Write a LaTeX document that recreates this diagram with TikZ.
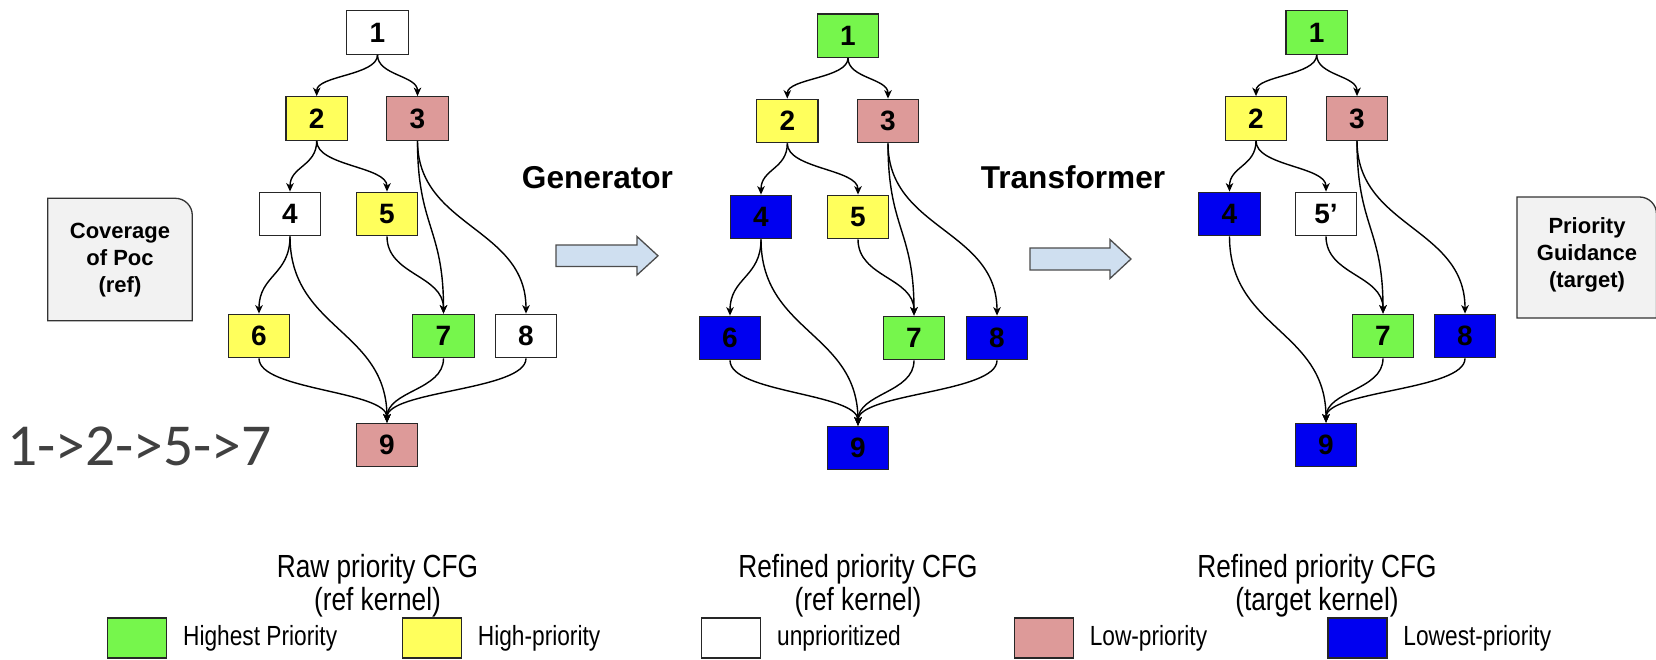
\documentclass[tikz,border=0pt]{standalone}
\usepackage{fontspec}
\setmainfont{Liberation Sans}
\newfontfamily\narrowfont[FakeStretch=0.82]{Liberation Sans}
\newfontfamily\pathfont{Carlito}
\usetikzlibrary{positioning,arrows.meta,calc}

\definecolor{prioGreen}{RGB}{118,246,76}
\definecolor{prioYellow}{RGB}{255,255,92}
\definecolor{prioPink}{RGB}{221,154,153}
\definecolor{prioBlue}{RGB}{0,0,240}
\definecolor{boxGray}{RGB}{242,242,242}
\definecolor{arrowBlue}{RGB}{207,223,240}
\definecolor{pathGray}{RGB}{64,64,64}

\tikzset{
  blk/.style={draw=black!85, line width=1.3pt, minimum width=61.5, minimum height=43.5, inner sep=0pt, font=\fontsize{28}{28}\selectfont\bfseries},
  pHighest/.style={blk, fill=prioGreen},
  pHigh/.style={blk, fill=prioYellow},
  pNone/.style={blk, fill=white},
  pLow/.style={blk, fill=prioPink},
  pLowest/.style={blk, fill=prioBlue},
  flow/.style={-{Stealth[length=8.5pt,width=7.5pt,inset=2.5pt]}, line width=1.4pt,
    to path={let \p1=(\tikztostart), \p2=(\tikztotarget) in
      .. controls (\x1,{(\y1+\y2)/2}) and (\x2,{(\y1+\y2)/2}) .. (\tikztotarget)}},
  infobox/.style={draw=black!80, line width=1.3pt, fill=boxGray},
  infotext/.style={align=center, inner sep=0pt, font=\fontsize{22}{27}\selectfont\bfseries},
  stage/.style={inner sep=0pt, font=\fontsize{31.6}{32}\selectfont\bfseries},
  blockarrow/.style={draw=black!70, line width=1.3pt, fill=arrowBlue, line join=miter},
  caption/.style={align=center, inner sep=0pt, font=\narrowfont\fontsize{32}{33}\selectfont},
  legtext/.style={inner sep=0pt, font=\narrowfont\fontsize{27.7}{28}\selectfont},
}

\begin{document}
\begin{tikzpicture}[x=1pt,y=-1pt]
\useasboundingbox (0,0) rectangle (1656,659);

% raw priority CFG (ref kernel)
\node[pNone]    (a1) at (377.5,32.5) {1};
\node[pHigh]    (a2) at (316.7,118.5) {2};
\node[pLow]     (a3) at (417.5,118.5) {3};
\node[pNone]    (a4) at (290,214) {4};
\node[pHigh]    (a5) at (387,214) {5};
\node[pHigh]    (a6) at (259,336) {6};
\node[pHighest] (a7) at (443.5,336) {7};
\node[pNone]    (a8) at (526,336) {8};
\node[pLow]     (a9) at (387,445) {9};
\draw[flow] (a1.south) to (a2.north);
\draw[flow] (a1.south) to (a3.north);
\draw[flow] (a2.south) to (a4.north);
\draw[flow] (a2.south) to (a5.north);
\draw[flow] (a3.south) to (a7.north);
\draw[flow] (a3.south) to (a8.north);
\draw[flow] (a4.south) to (a6.north);
\draw[flow] (a4.south) to (a9.north);
\draw[flow] (a5.south) to (a7.north);
\draw[flow] (a6.south) to (a9.north);
\draw[flow] (a7.south) to (a9.north);
\draw[flow] (a8.south) to (a9.north);

% refined priority CFG (ref kernel)
\node[pHighest] (b1) at (848,35.7) {1};
\node[pHigh]    (b2) at (787.3,121) {2};
\node[pLow]     (b3) at (888,121) {3};
\node[pLowest]  (b4) at (761,217) {4};
\node[pHigh]    (b5) at (858,217) {5};
\node[pLowest]  (b6) at (730,338) {6};
\node[pHighest] (b7) at (914,338) {7};
\node[pLowest]  (b8) at (997,338) {8};
\node[pLowest]  (b9) at (858,448) {9};
\draw[flow] (b1.south) to (b2.north);
\draw[flow] (b1.south) to (b3.north);
\draw[flow] (b2.south) to (b4.north);
\draw[flow] (b2.south) to (b5.north);
\draw[flow] (b3.south) to (b7.north);
\draw[flow] (b3.south) to (b8.north);
\draw[flow] (b4.south) to (b6.north);
\draw[flow] (b4.south) to (b9.north);
\draw[flow] (b5.south) to (b7.north);
\draw[flow] (b6.south) to (b9.north);
\draw[flow] (b7.south) to (b9.north);
\draw[flow] (b8.south) to (b9.north);

% refined priority CFG (target kernel)
\node[pHighest] (c1) at (1316.7,32.5) {1};
\node[pHigh]    (c2) at (1256,118.5) {2};
\node[pLow]     (c3) at (1357,118.5) {3};
\node[pLowest]  (c4) at (1229.5,214) {4};
\node[pNone]    (c5) at (1326,214) {5’};
\node[pHighest] (c7) at (1383,336) {7};
\node[pLowest]  (c8) at (1465,336) {8};
\node[pLowest]  (c9) at (1326,445) {9};
\draw[flow] (c1.south) to (c2.north);
\draw[flow] (c1.south) to (c3.north);
\draw[flow] (c2.south) to (c4.north);
\draw[flow] (c2.south) to (c5.north);
\draw[flow] (c3.south) to (c7.north);
\draw[flow] (c3.south) to (c8.north);
\draw[flow] (c4.south) to (c9.north);
\draw[flow] (c5.south) to (c7.north);
\draw[flow] (c7.south) to (c9.north);
\draw[flow] (c8.south) to (c9.north);

% side boxes
\draw[infobox] (47.7,320.7) -- (47.7,198.3) -- (175.3,198.3) to[out=0,in=90] (192.3,215.3) -- (192.3,320.7) -- cycle;
\node[infotext] (cov) at (120,260) {Coverage\\of Poc\\(ref)};
\draw[infobox] (1517,318) -- (1517,197) -- (1639.5,197) to[out=0,in=90] (1656.5,214) -- (1656.5,318) -- cycle;
\node[infotext] (guide) at (1587,255) {Priority\\Guidance\\(target)};
\node[anchor=base west, inner sep=0pt, text=pathGray, font=\pathfont\fontsize{59.5}{60}\selectfont] (trace) at (7,465) {1->2->5->7};

% stages
\draw[blockarrow] (556,245) -- (637,245) -- (637,236.5) -- (658,255.8) -- (637,275) -- (637,266.5) -- (556,266.5) -- cycle;
\node[stage] (gen) at (597.5,177.5) {Generator};
\draw[blockarrow] (1030,248) -- (1110,248) -- (1110,239.5) -- (1131,259) -- (1110,278.5) -- (1110,270) -- (1030,270) -- cycle;
\node[stage] (trf) at (1073,177) {Transformer};

\node[caption] (capA) at (377.5,586) {Raw priority CFG\\(ref kernel)};
\node[caption] (capB) at (858,586) {Refined priority CFG\\(ref kernel)};
\node[caption] (capC) at (1317,586) {Refined priority CFG\\(target kernel)};

% legend
\node[pHighest, minimum width=59, minimum height=40] (lg1) at (137.3,638) {};
\node[legtext, right=15.5pt of lg1] (lt1) {Highest Priority};
\node[pHigh, minimum width=59, minimum height=40] (lg2) at (432,638) {};
\node[legtext, right=15.5pt of lg2] (lt2) {High-priority};
\node[pNone, minimum width=59, minimum height=40] (lg3) at (731.3,638) {};
\node[legtext, right=15.5pt of lg3] (lt3) {unprioritized};
\node[pLow, minimum width=59, minimum height=40] (lg4) at (1043.9,638) {};
\node[legtext, right=15.5pt of lg4] (lt4) {Low-priority};
\node[pLowest, minimum width=59, minimum height=40] (lg5) at (1357.6,638) {};
\node[legtext, right=15.5pt of lg5] (lt5) {Lowest-priority};

\end{tikzpicture}
\end{document}
